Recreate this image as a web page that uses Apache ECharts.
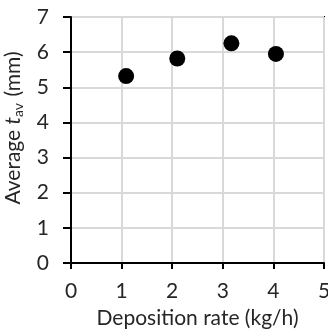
<!DOCTYPE html>
<html><head><meta charset="utf-8">
<script src="https://cdn.jsdelivr.net/npm/echarts@6/dist/echarts.min.js"></script>
<style>html,body{margin:0;padding:0;background:#fff}#c{width:328px;height:331px}</style>
</head><body><div id="c"></div>
<script>
const xValues = [1.09, 2.10, 3.17, 4.05];
const yValues = [5.32, 5.82, 6.25, 5.95];
const xTicks = [0, 1, 2, 3, 4, 5];
const yTicks = [0, 1, 2, 3, 4, 5, 6, 7];
const xTitle = 'Deposition rate (kg/h)';

const font = 'Lato, "Open Sans", sans-serif';
const txt = '#262626';
const fs = 21;
const chart = echarts.init(document.getElementById('c'), null, {renderer: 'canvas'});
chart.setOption({
  animation: false,
  grid: {left: 71, right: 4, top: 17, bottom: 68, show: true, borderColor: '#000', borderWidth: 2, containLabel: false, outerBoundsMode: 'none'},
  xAxis: {
    type: 'value', min: xTicks[0], max: xTicks[xTicks.length - 1], interval: 1,
    name: xTitle, nameLocation: 'middle', nameGap: 45,
    nameTextStyle: {fontFamily: font, fontSize: fs, color: txt},
    axisLine: {lineStyle: {color: '#000', width: 2}},
    axisTick: {show: true, inside: false, length: 6, lineStyle: {color: '#000', width: 2}},
    axisLabel: {fontFamily: font, fontSize: fs, color: txt, margin: 18},
    splitLine: {show: true, lineStyle: {color: '#d9d9d9', width: 2}}
  },
  yAxis: {
    type: 'value', min: yTicks[0], max: yTicks[yTicks.length - 1], interval: 1,
    name: '{n|Average }{i|t}{s|av}{n| (mm)}', nameLocation: 'middle', nameGap: 46, nameRotate: 90,
    nameTextStyle: {
      fontFamily: font, fontSize: fs, color: txt, padding: [0, 0, 0, 24],
      rich: {
        n: {fontFamily: font, fontSize: fs, color: txt},
        i: {fontFamily: font, fontSize: fs, color: txt, fontStyle: 'italic'},
        s: {fontFamily: font, fontSize: 14, color: txt, verticalAlign: 'bottom', padding: [10, 1, 0, 0]}
      }
    },
    axisLine: {lineStyle: {color: '#000', width: 2}},
    axisTick: {show: true, inside: false, length: 8, lineStyle: {color: '#000', width: 2}},
    axisLabel: {fontFamily: font, fontSize: fs, color: txt, margin: 22},
    splitLine: {show: true, lineStyle: {color: '#d9d9d9', width: 2}}
  },
  series: [{
    type: 'scatter',
    data: xValues.map((x, i) => [x, yValues[i]]),
    symbol: 'circle', symbolSize: 16,
    itemStyle: {color: '#000', opacity: 1}
  }]
});
</script></body></html>
